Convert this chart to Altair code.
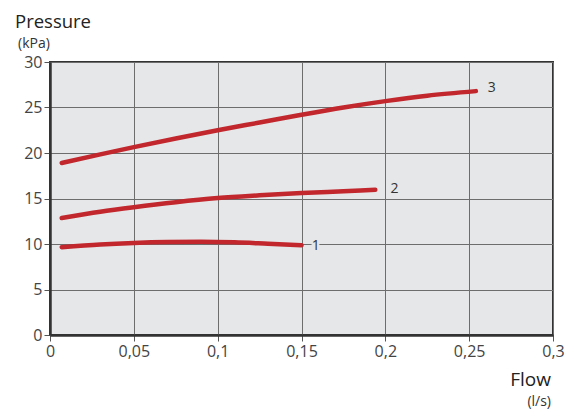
import altair as alt
import pandas as pd

# Curve data (flow l/s, pressure kPa)
c1_x = [0.007, 0.03, 0.05, 0.07, 0.09, 0.11, 0.13, 0.15]
c1_y = [9.65, 9.95, 10.12, 10.22, 10.25, 10.18, 10.02, 9.85]
c2_x = [0.007, 0.03, 0.05, 0.075, 0.1, 0.125, 0.15, 0.175, 0.194]
c2_y = [12.85, 13.55, 14.05, 14.6, 15.05, 15.35, 15.6, 15.8, 15.95]
c3_x = [0.007, 0.03, 0.05, 0.075, 0.1, 0.125, 0.15, 0.175, 0.2, 0.225, 0.254]
c3_y = [18.9, 19.85, 20.65, 21.6, 22.5, 23.35, 24.2, 25.0, 25.7, 26.3, 26.8]

labels = ["1", "2", "3"]
label_x = [0.1585, 0.2055, 0.2635]
label_y = [9.8, 16.0, 27.1]

x_ticks = [0, 0.05, 0.1, 0.15, 0.2, 0.25, 0.3]
y_ticks = [0, 5, 10, 15, 20, 25, 30]

rows = []
for name, xs, ys in [("1", c1_x, c1_y), ("2", c2_x, c2_y), ("3", c3_x, c3_y)]:
    for a, b in zip(xs, ys):
        rows.append({"curve": name, "flow": a, "pressure": b})
df = pd.DataFrame(rows)
lab = pd.DataFrame({"label": labels, "flow": label_x, "pressure": label_y})

FONT = "Open Sans"
BG = "#e6e7e8"

xenc = alt.X("flow:Q", scale=alt.Scale(domain=[0, 0.3], nice=False),
             axis=alt.Axis(values=x_ticks, title=None,
                           labelExpr="replace(toString(datum.value), '.', ',')"))
yenc = alt.Y("pressure:Q", scale=alt.Scale(domain=[0, 30], nice=False),
             axis=alt.Axis(values=y_ticks, title=None))

lines = alt.Chart(df).mark_line(
    color="#c1272d", strokeWidth=4.5, strokeCap="round", interpolate="monotone"
).encode(x=xenc, y=yenc, detail="curve:N")

halo = alt.Chart(lab).mark_text(
    font=FONT, fontSize=14, color="#333333", stroke=BG, strokeWidth=5,
    align="center", baseline="middle"
).encode(x="flow:Q", y="pressure:Q", text="label:N")
txt = alt.Chart(lab).mark_text(
    font=FONT, fontSize=14, color="#333333", align="center", baseline="middle"
).encode(x="flow:Q", y="pressure:Q", text="label:N")

titles = pd.DataFrame({"t": ["Pressure"]})
t1 = alt.Chart(titles).mark_text(font=FONT, fontSize=18.5, color="#222222", align="left",
                                 baseline="alphabetic").encode(
    x=alt.value(-35), y=alt.value(-34), text=alt.value("Pressure"))
t2 = alt.Chart(titles).mark_text(font=FONT, fontSize=14, color="#333333", align="left",
                                 baseline="alphabetic").encode(
    x=alt.value(-32), y=alt.value(-14), text=alt.value("(kPa)"))
t3 = alt.Chart(titles).mark_text(font=FONT, fontSize=19, color="#222222", align="right",
                                 baseline="alphabetic").encode(
    x=alt.value(501), y=alt.value(324), text=alt.value("Flow"))
t4 = alt.Chart(titles).mark_text(font=FONT, fontSize=14, color="#333333", align="right",
                                 baseline="alphabetic").encode(
    x=alt.value(501), y=alt.value(344), text=alt.value("(l/s)"))

chart = alt.layer(lines, halo, txt, t1, t2, t3, t4).properties(
    width=503, height=273,
    autosize=alt.AutoSizeParams(type="none"),
    padding={"left": 42, "top": 54, "right": 12, "bottom": 76},
).configure_view(
    fill=BG, stroke="#333333", strokeWidth=2
).configure_axis(
    grid=True, gridColor="#6d6d6d", gridWidth=1, gridOpacity=1,
    domainColor="#333333", domainWidth=2.5,
    tickColor="#555555", tickSize=6, tickWidth=1,
    labelFont=FONT, labelFontSize=16, labelColor="#444444", labelPadding=2,
    labelOverlap=False
).configure_axisX(labelFlush=False)

chart.save("out.html", embed_options={"renderer": "svg", "actions": False})
